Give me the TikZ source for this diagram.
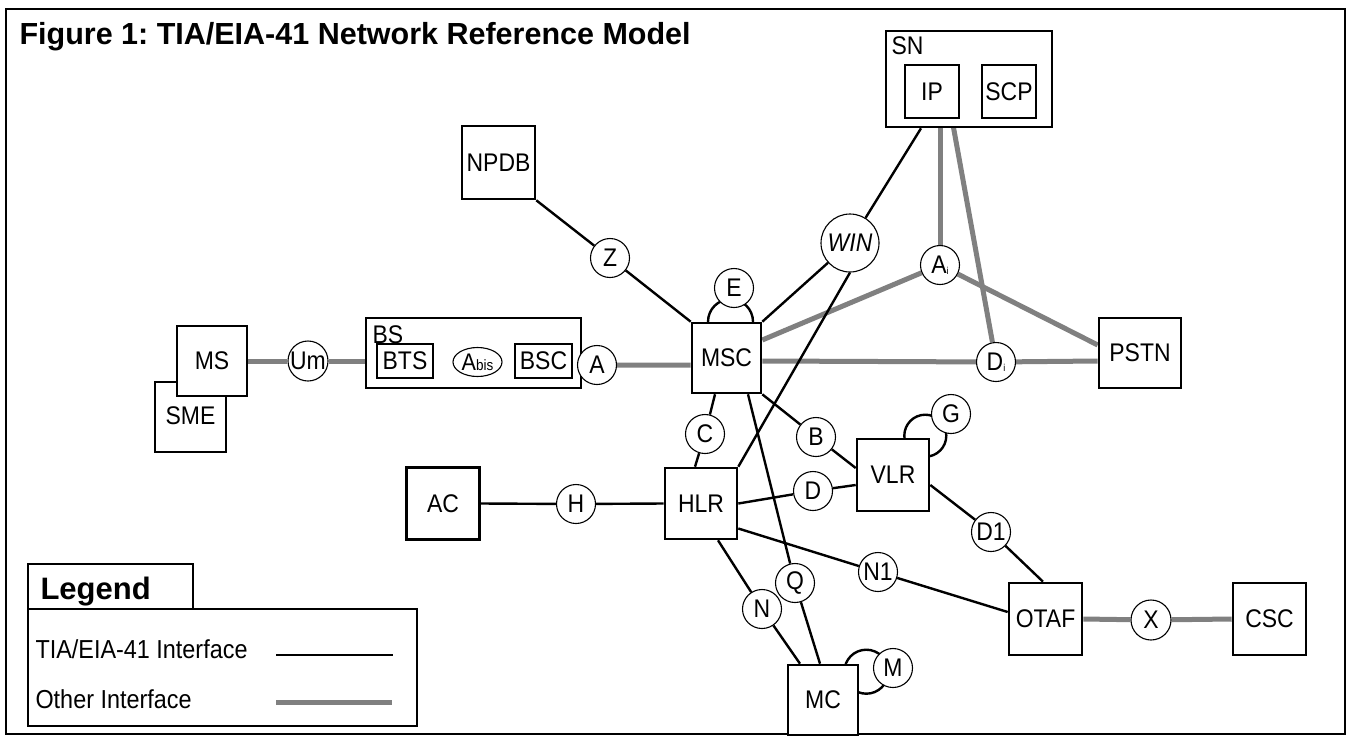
\documentclass[tikz,border=0pt]{standalone}
\usepackage{fontspec}
\setmainfont[FakeStretch=0.9]{Liberation Sans}
\newfontfamily\plainfont{Liberation Sans}
\usetikzlibrary{shapes.geometric}
\definecolor{ifgray}{RGB}{128,128,128}
\pgfdeclarelayer{bg}
\pgfdeclarelayer{links}
\pgfsetlayers{bg,links,main}
\frenchspacing
\begin{document}
\begin{tikzpicture}[x=1pt,y=-1pt,
  lbl/.style={font=\fontsize{25.5}{28}\selectfont},
  box/.style={draw,line width=2.6pt,fill=white,inner sep=0pt,font=\fontsize{25.5}{28}\selectfont},
  tag/.style={circle,draw,line width=1.1pt,fill=white,inner sep=0pt,minimum size=39pt,font=\fontsize{25.5}{28}\selectfont},
  tia/.style={line width=2.4pt,black},
  other/.style={line width=5pt,ifgray},
  legtext/.style={anchor=base west,font=\fontsize{26}{28}\selectfont}
]
\useasboundingbox (0,0) rectangle (1348,736);
\begin{pgfonlayer}{bg}
  \fill[white] (0,0) rectangle (1348,736);
  \draw[line width=2.5pt] (6,9) rectangle (1345,734);
\end{pgfonlayer}

% title
\node[anchor=base west,font=\plainfont\bfseries\fontsize{30.5}{33}\selectfont] (title) at (16,44) {Figure 1: TIA/EIA-41 Network Reference Model};

% service node
\node[box,minimum width=166pt,minimum height=96pt] (SN) at (969,79) {};
\node[anchor=base west,lbl] (SNlabel) at (888,54) {SN};
\node[box,minimum width=54pt,minimum height=53pt] (IP) at (932,91.5) {IP};
\node[box,minimum width=54pt,minimum height=53pt] (SCP) at (1009,91.5) {SCP};

\node[box,minimum size=73pt] (NPDB) at (498.5,162.5) {NPDB};

% mobile station and base station
\node[box,minimum width=71pt,minimum height=70pt] (SME) at (190.5,417) {\raisebox{2pt}{SME}};
\node[box,minimum width=70pt,minimum height=70pt] (MS) at (212,361) {MS};
\node[box,minimum width=215pt,minimum height=70pt] (BS) at (473.5,353) {};
\node[anchor=base west,lbl] (BSlabel) at (369,343) {BS};
\node[box,minimum width=56pt,minimum height=34pt] (BTS) at (405,361) {BTS};
\node[box,minimum width=57pt,minimum height=34pt] (BSC) at (543.5,361) {BSC};
\node[ellipse,draw,line width=1.1pt,fill=white,minimum width=49pt,minimum height=29pt,inner sep=0pt,font=\fontsize{24}{26}\selectfont] (Abis) at (477.5,362) {A{\fontsize{15}{15}\selectfont bis}};
\node[tag,minimum size=40pt] (Um) at (308,361) {Um};
\node[tag] (A) at (597,365) {A};

% switching and registers
\node[box,minimum width=69pt,minimum height=70pt] (MSC) at (726.5,358) {MSC};
\node[box,minimum width=82pt,minimum height=70pt] (PSTN) at (1140,353) {PSTN};
\node[box,minimum width=72pt,minimum height=71pt] (HLR) at (701,503.5) {HLR};
\node[box,minimum width=72pt,minimum height=72pt] (VLR) at (893,475) {VLR};
\node[box,minimum width=73pt,minimum height=72pt] (AC) at (443,503.5) {AC};
\node[box,minimum width=70pt,minimum height=70pt] (MC) at (823,700) {MC};
\node[box,minimum width=73pt,minimum height=72pt] (OTAF) at (1045.5,619) {OTAF};
\node[box,minimum width=73pt,minimum height=72pt] (CSC) at (1269.5,619) {CSC};

% interface tags
\node[tag] (Z) at (610,258) {Z};
\node[tag] (E) at (734,288) {E};
\node[tag,minimum size=58pt,font=\itshape\fontsize{25.5}{28}\selectfont] (WIN) at (850,243) {WIN};
\node[tag] (Ai) at (940,265) {A\raisebox{-1pt}{\fontsize{10}{10}\selectfont i}};
\node[tag] (Di) at (996,362) {D\raisebox{-1pt}{\fontsize{10}{10}\selectfont i}};
\node[tag] (C) at (705,434) {C};
\node[tag] (B) at (816,437) {B};
\node[tag] (G) at (951,414) {G};
\node[tag] (D) at (813,491) {D};
\node[tag] (H) at (576,504) {H};
\node[tag] (N) at (762,609) {N};
\node[tag] (Q) at (795,583) {Q};
\node[tag] (N1) at (878,572) {N1};
\node[tag] (M) at (893,668) {M};
\node[tag] (D1) at (991,532) {D1};
\node[tag,minimum size=40pt] (X) at (1151,620) {X};

% legend
\node[draw,line width=2.6pt,minimum width=165pt,minimum height=45pt,inner sep=0pt] (legtab) at (110.5,586.5) {};
\node[anchor=base west,font=\plainfont\bfseries\fontsize{31}{33}\selectfont] (legtitle) at (37,599) {Legend};
\node[draw,line width=2.6pt,minimum width=389pt,minimum height=117pt,inner sep=0pt] (legbox) at (222.5,667.5) {};
\node[legtext] (legtia) at (32,658) {TIA/EIA-41 Interface};
\node[legtext] (legoth) at (32,708) {Other Interface};
\coordinate (lt1) at (276,655);
\coordinate (lt2) at (393,655);
\coordinate (lo1) at (276,702);
\coordinate (lo2) at (392,702);

\begin{pgfonlayer}{links}
  % other interfaces
  \draw[other] (MS.east) -- (Um) -- (BTS.west);
  \draw[other] (BTS.east) -- (Abis) -- (BSC.west);
  \draw[other] ([yshift=-3pt]BSC.east) -- (A) -- ([yshift=-7pt]MSC.west);
  \draw[other] ([xshift=8pt]IP.south) -- (Ai);
  \draw[other] ([yshift=18pt]MSC.east) -- (Ai) -- ([yshift=8pt]PSTN.west);
  \draw[other] ([xshift=20pt]IP.south) -- (Di);
  \draw[other] ([yshift=-3pt]MSC.east) -- (Di) -- ([yshift=-8pt]PSTN.west);
  \draw[other] (OTAF.east) -- (X) -- (CSC.west);
  \draw[other] (lo1) -- (lo2);
  % TIA/EIA-41 interfaces
  \draw[tia] (NPDB.south east) -- (Z) -- (MSC.north west);
  \draw[tia] (MSC.north east) -- (WIN) -- ([xshift=-48pt]SN.south);
  \draw[tia] (WIN.south) -- (HLR.north east);
  \draw[tia] ([xshift=-11.5pt]MSC.south) -- (C) -- ([xshift=-6pt]HLR.north);
  \draw[tia] (MSC.south east) -- (B) -- ([yshift=7pt]VLR.west);
  \draw[tia] (HLR.east) -- (D) -- ([yshift=-10pt]VLR.west);
  \draw[tia] (AC.east) -- (H) -- (HLR.west);
  \draw[tia] ([xshift=21.5pt]MSC.south) -- (Q) -- ([xshift=-3pt]MC.north);
  \draw[tia] ([xshift=17pt]HLR.south) -- (N) -- ([xshift=-23pt]MC.north);
  \draw[tia] ([yshift=-25pt]HLR.east) -- (N1) -- ([yshift=7pt]OTAF.west);
  \draw[tia] ([yshift=-10pt]VLR.east) -- (D1) -- ([xshift=-2.5pt]OTAF.north);
  \draw[tia] ([xshift=4pt]MSC.north) circle[radius=22.5];
  \draw[tia] ([xshift=-5pt,yshift=2pt]VLR.north east) circle[radius=21];
  \draw[tia] ([xshift=7pt,yshift=-8pt]MC.north east) circle[radius=22];
  \draw[tia] (lt1) -- (lt2);
\end{pgfonlayer}
\end{tikzpicture}
\end{document}
